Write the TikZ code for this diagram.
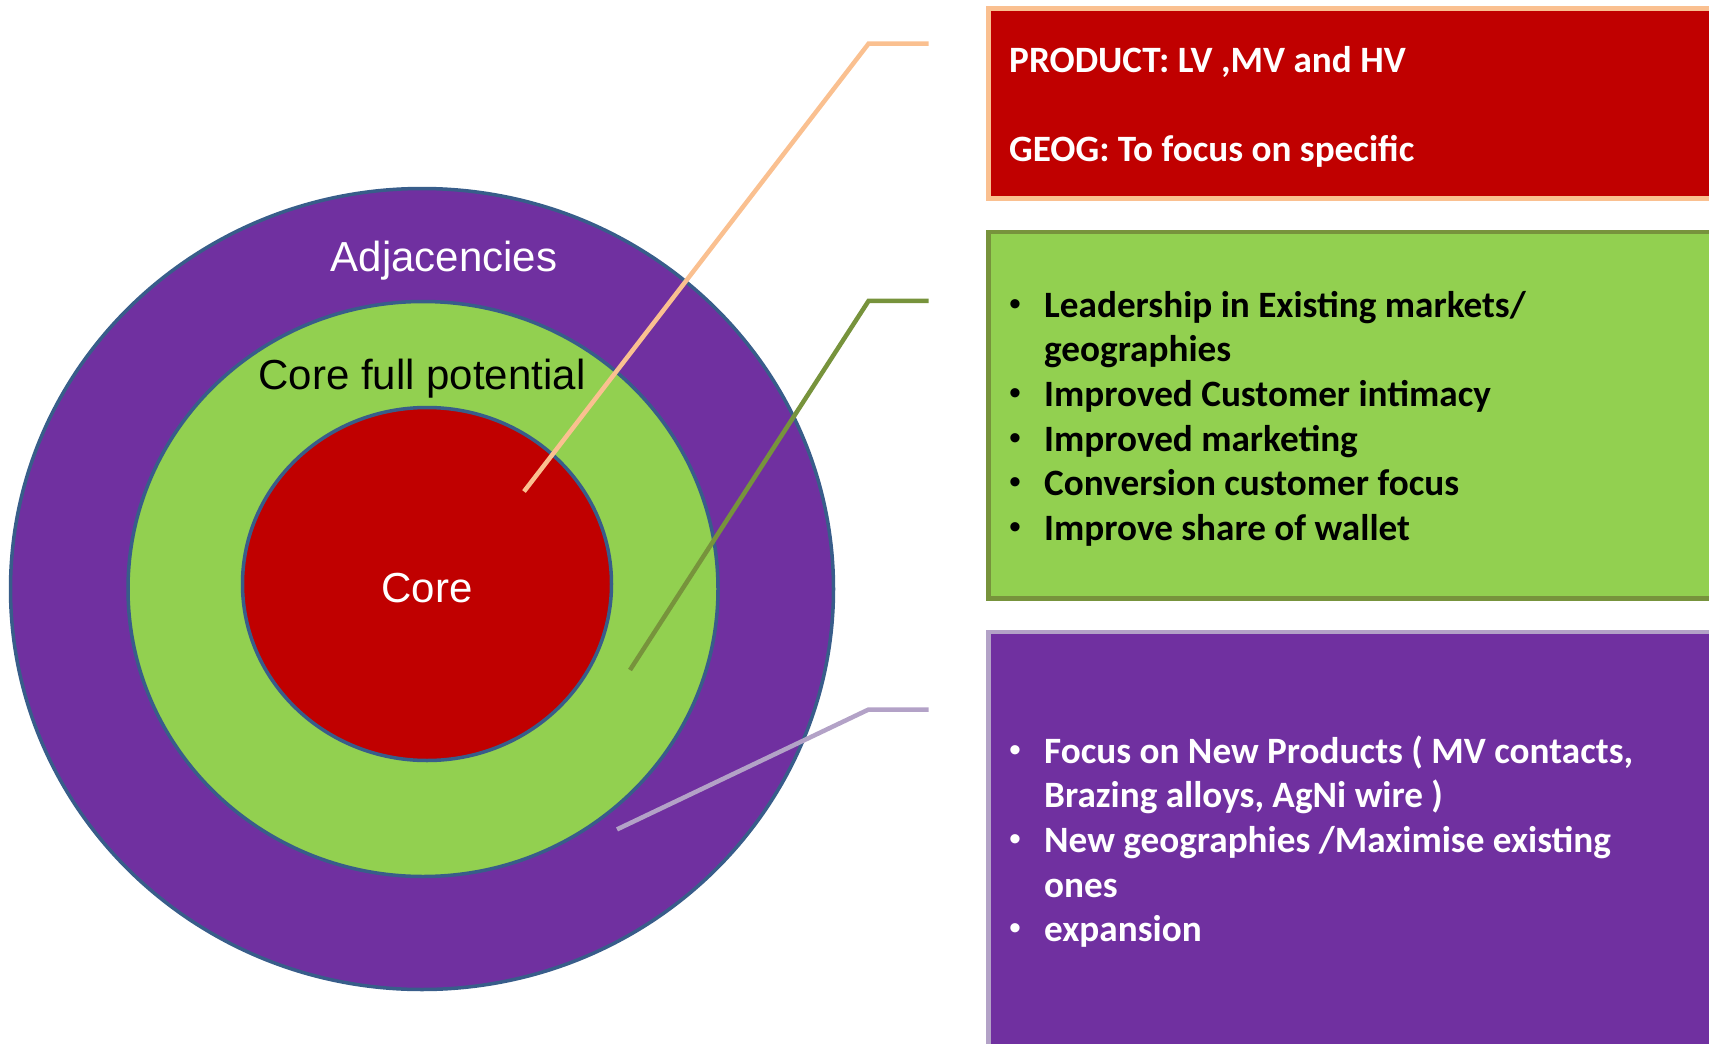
\documentclass[tikz,border=0pt]{standalone}
\usepackage{fontspec}
\setmainfont{Liberation Sans}
\newfontfamily\boxfontfam{Carlito}
\usetikzlibrary{shapes.geometric}
\definecolor{cpurple}{HTML}{7030A0}
\definecolor{cgreen}{HTML}{92D050}
\definecolor{cred}{HTML}{C00000}
\definecolor{ringedge}{HTML}{385D8A}
\definecolor{cpeach}{HTML}{FAC090}
\definecolor{colive}{HTML}{77933C}
\definecolor{clav}{HTML}{B3A2C7}
\tikzset{
  ring/.style={ellipse, draw=ringedge, line width=3.5pt, inner sep=0pt},
  ringtext/.style={anchor=base, inner sep=0pt, font=\fontsize{42}{50}\selectfont},
  conn/.style={line width=4.5pt},
  infobox/.style={line width=4.5pt},
  boxtext/.style={anchor=base west, inner sep=0pt, font=\boxfontfam\bfseries\fontsize{37.2}{44}\selectfont},
  bullettext/.style={anchor=base west, inner sep=0pt, font=\fontsize{34}{44}\selectfont},
}
\begin{document}
\begin{tikzpicture}[x=1pt,y=-1pt]
\useasboundingbox (0,0) rectangle (1709,1044);
\clip (0,0) rectangle (1709,1044);
% rings
\node[ring, fill=cpurple, minimum width=823pt, minimum height=801pt] (outer) at (422,589) {};
\node[ring, fill=cgreen, minimum width=590pt, minimum height=575pt] (middle) at (423,589) {};
\node[ring, fill=cred, minimum width=369pt, minimum height=353pt] (inner) at (427,584) {};
\node[ringtext, text=white] (adjtxt) at (444,271) {Adjacencies};
\node[ringtext, text=black] (cfptxt) at (422,389) {Core full potential};
\node[ringtext, text=white] (coretxt) at (427,602) {Core};
% boxes
\draw[infobox, draw=cpeach, fill=cred] (988.5,8.5) rectangle (1720,198.5);
\draw[infobox, draw=colive, fill=cgreen] (988.5,232) rectangle (1720,598.5);
\draw[infobox, draw=clav, fill=cpurple] (988.5,632) rectangle (1720,1060);
% connectors
\coordinate (p1) at (524,491.5);
\coordinate (p2) at (868.6,43.6);
\coordinate (p3) at (928.6,43.6);
\coordinate (g1) at (630,670);
\coordinate (g2) at (868.6,300.8);
\coordinate (g3) at (928.6,300.8);
\coordinate (l1) at (617,829.4);
\coordinate (l2) at (868.6,709.5);
\coordinate (l3) at (928.6,709.5);
\draw[conn, cpeach] (p1) -- (p2) -- (p3);
\draw[conn, colive] (g1) -- (g2) -- (g3);
\draw[conn, clav] (l1) -- (l2) -- (l3);
% red box text
\node[boxtext, text=white] (r1) at (1009,72) {PRODUCT: LV ,MV and HV};
\node[boxtext, text=white] (r2) at (1009,161) {GEOG: To focus on specific};
% green box text
\node[bullettext] (gb1) at (1009,315) {•};
\node[boxtext] (gt1) at (1044,317) {Leadership in Existing markets/};
\node[boxtext] (gt1b) at (1044,361.7) {geographies};
\node[bullettext] (gb2) at (1009,404.4) {•};
\node[boxtext] (gt2) at (1044,406.4) {Improved Customer intimacy};
\node[bullettext] (gb3) at (1009,449.1) {•};
\node[boxtext] (gt3) at (1044,451.1) {Improved marketing};
\node[bullettext] (gb4) at (1009,493.8) {•};
\node[boxtext] (gt4) at (1044,495.8) {Conversion customer focus};
\node[bullettext] (gb5) at (1009,538.5) {•};
\node[boxtext] (gt5) at (1044,540.5) {Improve share of wallet};
% purple box text
\node[bullettext, text=white] (pb1) at (1009,761) {•};
\node[boxtext, text=white] (pt1) at (1044,763) {Focus on New Products ( MV contacts,};
\node[boxtext, text=white] (pt1b) at (1044,807.7) {Brazing alloys, AgNi wire )};
\node[bullettext, text=white] (pb2) at (1009,850.4) {•};
\node[boxtext, text=white] (pt2) at (1044,852.4) {New geographies /Maximise existing};
\node[boxtext, text=white] (pt2b) at (1044,897.1) {ones};
\node[bullettext, text=white] (pb3) at (1009,939.8) {•};
\node[boxtext, text=white] (pt3) at (1044,941.8) {expansion};
\end{tikzpicture}
\end{document}
